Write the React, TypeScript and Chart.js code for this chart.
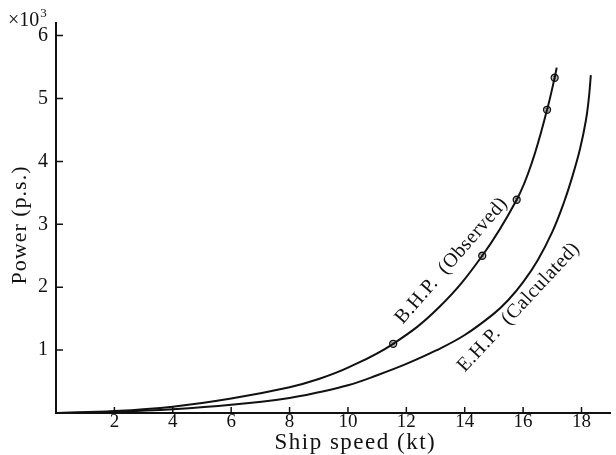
import React, { useEffect, useRef } from "react";
import { Chart, registerables } from "chart.js";

Chart.register(...registerables);

// Tick values
const speedTicks = [2, 4, 6, 8, 10, 12, 14, 16, 18];
const powerTicks = [1, 2, 3, 4, 5, 6];

// B.H.P. (Observed) curve, ship speed (kt) vs power (x10^3 p.s.)
const bhpSpeed = [0, 2, 4, 6, 8, 9, 10, 11.55, 13.12, 14.6, 15.78, 16.3, 16.82, 17.08, 17.15];
const bhpPower = [0, 0.03, 0.1, 0.23, 0.41, 0.54, 0.72, 1.1, 1.68, 2.5, 3.39, 3.98, 4.82, 5.33, 5.49];

// Observed points on B.H.P.
const obsSpeed = [11.55, 14.6, 15.78, 16.82, 17.08];
const obsPower = [1.1, 2.5, 3.39, 4.82, 5.33];

// E.H.P. (Calculated) curve
const ehpSpeed = [0, 2, 4, 6, 8, 9, 10, 11, 12, 13, 14, 15, 15.5, 16, 16.5, 17, 17.4, 17.7, 17.95, 18.15, 18.25, 18.32];
const ehpPower = [0, 0.02, 0.06, 0.13, 0.24, 0.33, 0.44, 0.6, 0.78, 0.99, 1.24, 1.58, 1.8, 2.08, 2.43, 2.88, 3.35, 3.78, 4.2, 4.65, 5.0, 5.37];

const SERIF = '"Liberation Serif", "DejaVu Serif", serif';
const INK = "#111";

const toPts = (xs: number[], ys: number[]) => xs.map((x, i) => ({ x, y: ys[i] }));

const decor = {
  id: "decor",
  afterDraw(chart: any) {
    const { ctx, chartArea, scales } = chart;
    const x = scales.x;
    const y = scales.y;
    ctx.save();
    // inward tick marks
    ctx.strokeStyle = INK;
    ctx.lineWidth = 1.5;
    ctx.beginPath();
    for (const v of speedTicks) {
      const px = x.getPixelForValue(v);
      ctx.moveTo(px, chartArea.bottom);
      ctx.lineTo(px, chartArea.bottom - 6);
    }
    for (const v of powerTicks) {
      const py = y.getPixelForValue(v);
      ctx.moveTo(chartArea.left, py);
      ctx.lineTo(chartArea.left + 7, py);
    }
    ctx.stroke();

    ctx.fillStyle = INK;
    // x title
    ctx.font = `23px ${SERIF}`;
    (ctx as any).letterSpacing = "1.5px";
    ctx.textAlign = "center";
    ctx.textBaseline = "middle";
    ctx.fillText("Ship speed (kt)", (chartArea.left + chartArea.right) / 2 + 22, chartArea.bottom + 30);

    // y title
    ctx.save();
    ctx.translate(20, 225);
    ctx.rotate(-Math.PI / 2);
    ctx.font = `22px ${SERIF}`;
    (ctx as any).letterSpacing = "1px";
    ctx.fillText("Power (p.s.)", 0, 0);
    ctx.restore();

    // x10^3 unit
    (ctx as any).letterSpacing = "0px";
    ctx.textAlign = "left";
    ctx.textBaseline = "alphabetic";
    ctx.font = `20px ${SERIF}`;
    ctx.fillText("×10", 8, 26);
    const w = ctx.measureText("×10").width;
    ctx.font = `13px ${SERIF}`;
    ctx.fillText("3", 8 + w + 1, 17);

    // curve labels
    const label = (text: string, vx: number, vy: number, deg: number) => {
      ctx.save();
      ctx.translate(x.getPixelForValue(vx), y.getPixelForValue(vy));
      ctx.rotate((deg * Math.PI) / 180);
      ctx.font = `20px ${SERIF}`;
      (ctx as any).letterSpacing = "0.5px";
      ctx.textAlign = "center";
      ctx.textBaseline = "middle";
      ctx.fillText(text, 0, 0);
      ctx.restore();
    };
    label("B.H.P.  (Observed)", 13.55, 2.42, -49);
    label("E.H.P.  (Calculated)", 15.85, 1.68, -47);
    ctx.restore();
  },
};

export default function App() {
  const ref = useRef<HTMLCanvasElement>(null);
  useEffect(() => {
    document.body.style.margin = "0";
    const canvas = ref.current!;
    const chart = new Chart(canvas, {
      type: "scatter",
      data: {
        datasets: [
          {
            data: toPts(bhpSpeed, bhpPower),
            showLine: true,
            borderColor: INK,
            borderWidth: 2,
            pointRadius: 0,
            tension: 0.4,
          },
          {
            data: toPts(ehpSpeed, ehpPower),
            showLine: true,
            borderColor: INK,
            borderWidth: 2,
            pointRadius: 0,
            tension: 0.4,
          },
          {
            data: toPts(obsSpeed, obsPower),
            showLine: false,
            pointStyle: "circle",
            pointRadius: 3.5,
            backgroundColor: "rgba(150,150,150,0.6)",
            borderColor: INK,
            borderWidth: 1.3,
          },
          {
            data: toPts(obsSpeed, obsPower),
            showLine: false,
            pointStyle: "crossRot",
            pointRadius: 2.5,
            borderColor: INK,
            borderWidth: 1,
          },
        ],
      },
      options: {
        responsive: false,
        animation: false,
        layout: { padding: { top: 23, right: 0, left: 0, bottom: 0 } },
        plugins: { legend: { display: false }, tooltip: { enabled: false } },
        scales: {
          x: {
            type: "linear",
            min: 0,
            max: 19,
            afterFit: (s: any) => {
              s.height = 42;
            },
            afterBuildTicks: (s: any) => {
              s.ticks = speedTicks.map((v) => ({ value: v }));
            },
            grid: { display: false, drawTicks: false },
            border: { display: true, color: INK, width: 2 },
            ticks: {
              color: INK,
              font: { family: SERIF, size: 19 },
              padding: -2,
              maxRotation: 0,
              autoSkip: false,
            },
          },
          y: {
            type: "linear",
            min: 0,
            max: 6.2,
            afterFit: (s: any) => {
              s.width = 56;
            },
            afterBuildTicks: (s: any) => {
              s.ticks = powerTicks.map((v) => ({ value: v }));
            },
            grid: { display: false, drawTicks: false },
            border: { display: true, color: INK, width: 2 },
            ticks: {
              color: INK,
              font: { family: SERIF, size: 20 },
              padding: 8,
              autoSkip: false,
            },
          },
        },
      },
      plugins: [decor],
    });
    return () => chart.destroy();
  }, []);
  return (
    <div style={{ width: 616, height: 455, background: "#fff" }}>
      <canvas ref={ref} width={616} height={455} style={{ display: "block" }} />
    </div>
  );
}
